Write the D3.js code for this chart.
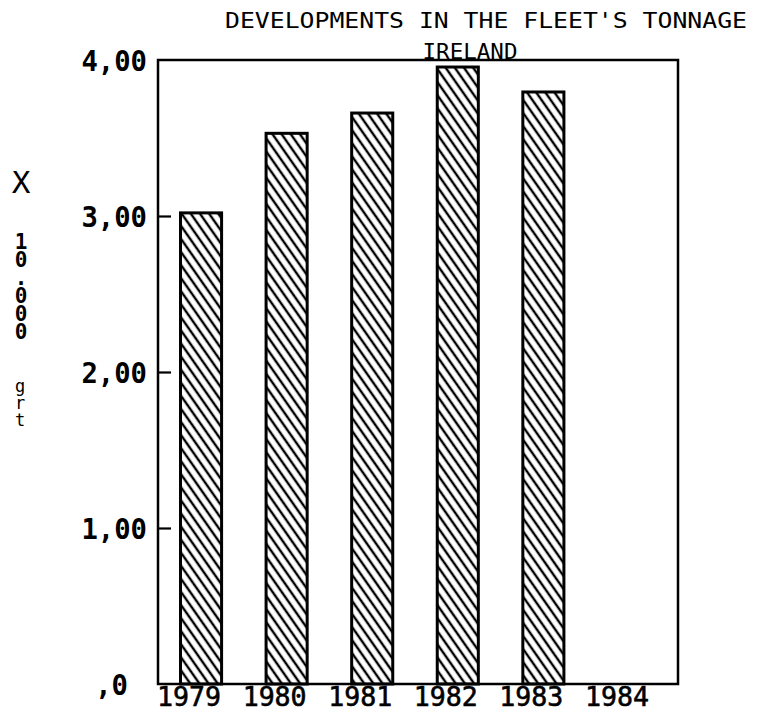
<!DOCTYPE html>
<html>
<head>
<meta charset="utf-8">
<script src="https://cdn.jsdelivr.net/npm/d3@7"></script>
<style>
  body { margin: 0; background: #fff; }
  svg { display: block; }
  text { font-family: "DejaVu Sans Mono", "Liberation Mono", monospace; fill: #000; }
</style>
</head>
<body>
<svg id="chart" width="762" height="712"></svg>
<script>
// values (x 10.000 grt)
var years = ["1979", "1980", "1981", "1982", "1983", "1984"];
var tonnage = [3.02, 3.53, 3.66, 3.955, 3.795, null];
var yTicks = [0, 1, 2, 3, 4];
var yTickLabels = [",0", "1,00", "2,00", "3,00", "4,00"];
var yTitleBig = "10.000";
var yTitleSmall = "grt";

var svg = d3.select("#chart");

// plot frame (names avoid the window.top global)
var frameL = 158, frameR = 678, frameT = 60, frameB = 684;

var x = d3.scaleBand()
    .domain(years)
    .range([frameL, 672])
    .paddingInner(0.52)
    .paddingOuter(0.263);

var y = d3.scaleLinear()
    .domain([0, 4])
    .range([frameB, frameT]);

// hatch pattern, lines running top-left to bottom-right
var defs = svg.append("defs");
defs.append("pattern")
    .attr("id", "hatch")
    .attr("patternUnits", "userSpaceOnUse")
    .attr("width", 7.5)
    .attr("height", 7.5)
    .attr("patternTransform", "rotate(-35)")
  .append("line")
    .attr("x1", 3.75).attr("y1", -1)
    .attr("x2", 3.75).attr("y2", 8.5)
    .attr("stroke", "#000")
    .attr("stroke-width", 2.4);

// bars
svg.append("g")
  .selectAll("rect")
  .data(years.map(function(d, i) { return {year: d, v: tonnage[i]}; })
             .filter(function(d) { return d.v != null; }))
  .join("rect")
    .attr("x", function(d) { return x(d.year); })
    .attr("y", function(d) { return y(d.v); })
    .attr("width", x.bandwidth())
    .attr("height", function(d) { return y(0) - y(d.v); })
    .attr("fill", "url(#hatch)")
    .attr("stroke", "#000")
    .attr("stroke-width", 3);

// frame
svg.append("rect")
    .attr("x", frameL)
    .attr("y", frameT)
    .attr("width", frameR - frameL)
    .attr("height", frameB - frameT)
    .attr("fill", "none")
    .attr("stroke", "#000")
    .attr("stroke-width", 2.5);

// y axis, ticks pointing inward
var yAxis = svg.append("g")
    .attr("transform", "translate(" + frameL + ",0)")
    .call(d3.axisLeft(y)
        .tickValues(yTicks)
        .tickSize(-13)
        .tickPadding(11)
        .tickFormat(function(d, i) { return yTickLabels[i]; }));
yAxis.select(".domain").remove();
yAxis.selectAll(".tick line")
    .attr("stroke-width", 2.2)
    .filter(function(d) { return d === 0 || d === 4; }).remove();
yAxis.selectAll(".tick text")
    .attr("font-family", "'DejaVu Sans Mono', monospace")
    .attr("font-weight", "bold")
    .attr("font-size", 29)
    .attr("dy", "0.36em")
    .attr("textLength", function(d, i) { return yTickLabels[i].length * 16.4; })
    .attr("lengthAdjust", "spacingAndGlyphs")
    .attr("dx", function(d) { return d === 0 ? -19 : 0; });

// x axis labels
var xAxis = svg.append("g")
    .attr("transform", "translate(-12," + frameB + ")")
    .call(d3.axisBottom(x).tickSize(0).tickPadding(3));
xAxis.select(".domain").remove();
xAxis.selectAll(".tick text")
    .attr("font-family", "'DejaVu Sans Mono', monospace")
    .attr("font-size", 27)
    .attr("dy", "0.71em")
    .attr("textLength", 64)
    .attr("lengthAdjust", "spacingAndGlyphs")
    .style("stroke", "#000")
    .style("stroke-width", 0.6);

// titles
svg.append("text")
    .attr("x", 225)
    .attr("y", 28)
    .attr("font-size", 21)
    .attr("textLength", 522)
    .attr("lengthAdjust", "spacingAndGlyphs")
    .text("DEVELOPMENTS IN THE FLEET'S TONNAGE");

svg.append("text")
    .attr("x", 470)
    .attr("y", 59)
    .attr("text-anchor", "middle")
    .attr("font-size", 21)
    .attr("textLength", 95)
    .attr("lengthAdjust", "spacingAndGlyphs")
    .text("IRELAND");

// vertical y title: "X", then the stacked "10.000" and "grt"
svg.append("text")
    .attr("x", 21)
    .attr("y", 193)
    .attr("text-anchor", "middle")
    .attr("font-size", 31)
    .text("X");

svg.append("text")
    .attr("x", 21)
    .attr("y", 230)
    .attr("font-weight", "bold")
    .attr("font-size", 21)
    .style("writing-mode", "vertical-rl")
    .style("text-orientation", "upright")
    .style("letter-spacing", "-6px")
    .text(yTitleBig);

svg.append("text")
    .attr("x", 20)
    .attr("y", 376)
    .attr("font-size", 17)
    .style("writing-mode", "vertical-rl")
    .style("text-orientation", "upright")
    .style("letter-spacing", "-3px")
    .text(yTitleSmall);
</script>
</body>
</html>
